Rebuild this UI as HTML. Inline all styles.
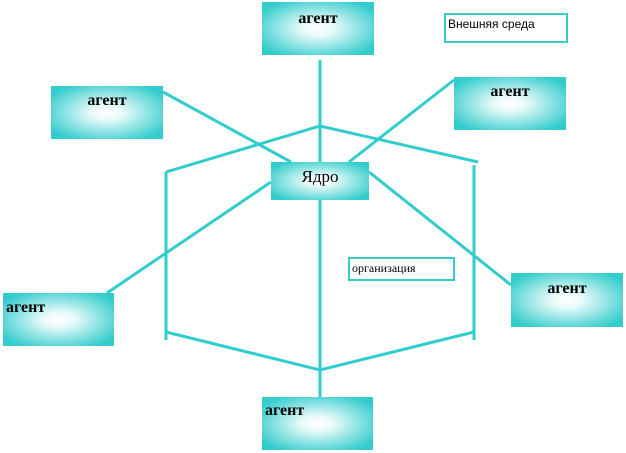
<!DOCTYPE html>
<html><head><meta charset="utf-8"><style>
body{margin:0;width:626px;height:453px;background:#fff;position:relative;overflow:hidden;font-family:"Liberation Serif",serif}
.b{position:absolute;background:radial-gradient(ellipse at center,#fff 0%,#e8fafa 20%,#33cccc 85%);font-size:16px;font-weight:bold;color:#000;box-sizing:border-box}
.t{position:absolute;border:2px solid #33cccc;background:#fff;font-size:13px;box-sizing:border-box;padding:2px}
svg{position:absolute;left:0;top:0}
</style></head><body>
<svg width="626" height="453"><g stroke="#33cccc" stroke-width="3" fill="none">
<line x1="320" y1="60" x2="320" y2="162"/>
<line x1="320" y1="200" x2="320" y2="397"/>
<polyline points="166,172 320,126 478,162"/>
<line x1="166" y1="172" x2="166" y2="340"/>
<line x1="474" y1="165" x2="474" y2="340"/>
<polyline points="166,332 320,370 474,332"/>
<line x1="163" y1="92" x2="291" y2="162"/>
<line x1="454" y1="80" x2="349" y2="162"/>
<line x1="271" y1="182" x2="107" y2="293"/>
<line x1="369" y1="172" x2="511" y2="285"/>
</g></svg>
<div class="b" style="left:262px;top:2px;width:112px;height:53px;text-align:center;padding-top:8px">агент</div>
<div class="t" style="left:444px;top:13px;width:124px;height:30px;font-family:'Liberation Sans',sans-serif;font-size:12px">Внешняя среда</div>
<div class="b" style="left:454px;top:77px;width:112px;height:53px;text-align:center;padding-top:6px">агент</div>
<div class="b" style="left:51px;top:86px;width:112px;height:53px;text-align:center;padding-top:6px">агент</div>
<div class="b" style="left:271px;top:162px;width:98px;height:38px;text-align:center;padding-top:5px;font-weight:normal;font-size:17px">Ядро</div>
<div class="t" style="left:348px;top:257px;width:107px;height:24px;font-size:12px">организация</div>
<div class="b" style="left:3px;top:293px;width:111px;height:53px;padding:6px 0 0 3px">агент</div>
<div class="b" style="left:511px;top:273px;width:112px;height:54px;text-align:center;padding-top:7px">агент</div>
<div class="b" style="left:262px;top:397px;width:111px;height:53px;padding:5px 0 0 3px">агент</div>
</body></html>
